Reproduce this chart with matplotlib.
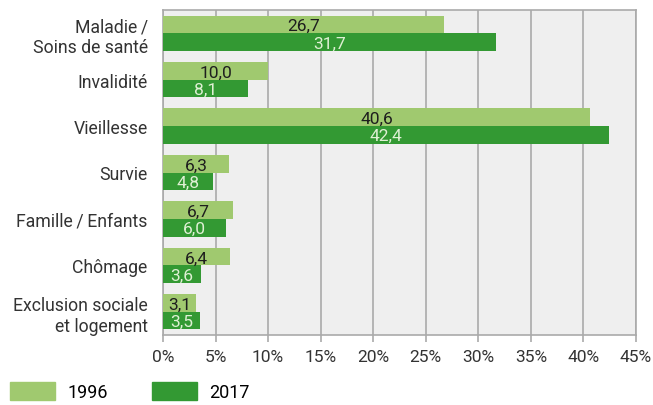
import matplotlib.pyplot as plt
import numpy as np
from matplotlib.patches import Patch

categories = ["Maladie\u2009/\nSoins de santé", "Invalidité", "Vieillesse", "Survie",
              "Famille\u2009/\u2009Enfants", "Chômage", "Exclusion sociale\net logement"]
v1996 = [26.7, 10.0, 40.6, 6.3, 6.7, 6.4, 3.1]
v2017 = [31.7, 8.1, 42.4, 4.8, 6.0, 3.6, 3.5]
xticks = [0, 5, 10, 15, 20, 25, 30, 35, 40, 45]

light = "#a0c96f"
dark = "#339933"

plt.rcParams["font.family"] = ["Roboto", "DejaVu Sans"]

fig = plt.figure(figsize=(6.53, 4.06), dpi=100)
ax = fig.add_axes([163 / 653, 1 - 336 / 406, (636 - 163) / 653, (336 - 11) / 406])

y = np.arange(len(categories))
h = 0.38
b1 = ax.barh(y - h / 2, v1996, height=h, color=light, zorder=3)
b2 = ax.barh(y + h / 2, v2017, height=h, color=dark, zorder=3)

for bar, v in zip(b1, v1996):
    ax.text(v / 2, bar.get_y() + bar.get_height() / 2 + 0.03, f"{v:.1f}".replace(".", ","),
            ha="center", va="center", fontsize=12.5, color="#1e1e1e", zorder=4)
for bar, v in zip(b2, v2017):
    ax.text(v / 2, bar.get_y() + bar.get_height() / 2 + 0.02, f"{v:.1f}".replace(".", ","),
            ha="center", va="center", fontsize=12.5, color="#dff0d4", zorder=4)

ax.set_xlim(0, 45)
ax.set_ylim(len(categories) - 0.5, -0.5)
ax.set_xticks(xticks)
ax.set_xticklabels([f"{t}%" for t in xticks], fontsize=12.5, color="#333333")
ax.set_yticks(y)
ax.set_yticklabels(categories, fontsize=12.7, color="#333333", linespacing=1.2)
ax.set_facecolor("#efefef")
ax.grid(axis="x", color="#aaaaaa", linewidth=1.2, zorder=0)
for s in ax.spines.values():
    s.set_color("#aaaaaa")
    s.set_linewidth(1.2)
ax.tick_params(axis="x", length=5, color="#aaaaaa", width=1.2, pad=5)
ax.tick_params(axis="y", length=0, pad=11)

handles = [Patch(color=light, label="1996"), Patch(color=dark, label="2017")]
fig.legend(handles=handles, loc="lower left", bbox_to_anchor=(0.0, -6 / 406), ncol=2,
           frameon=False, fontsize=13, handlelength=2.5, handleheight=1.17,
           columnspacing=2.45, handletextpad=0.65, borderaxespad=0.17)

fig.savefig("out.png", dpi=100)
